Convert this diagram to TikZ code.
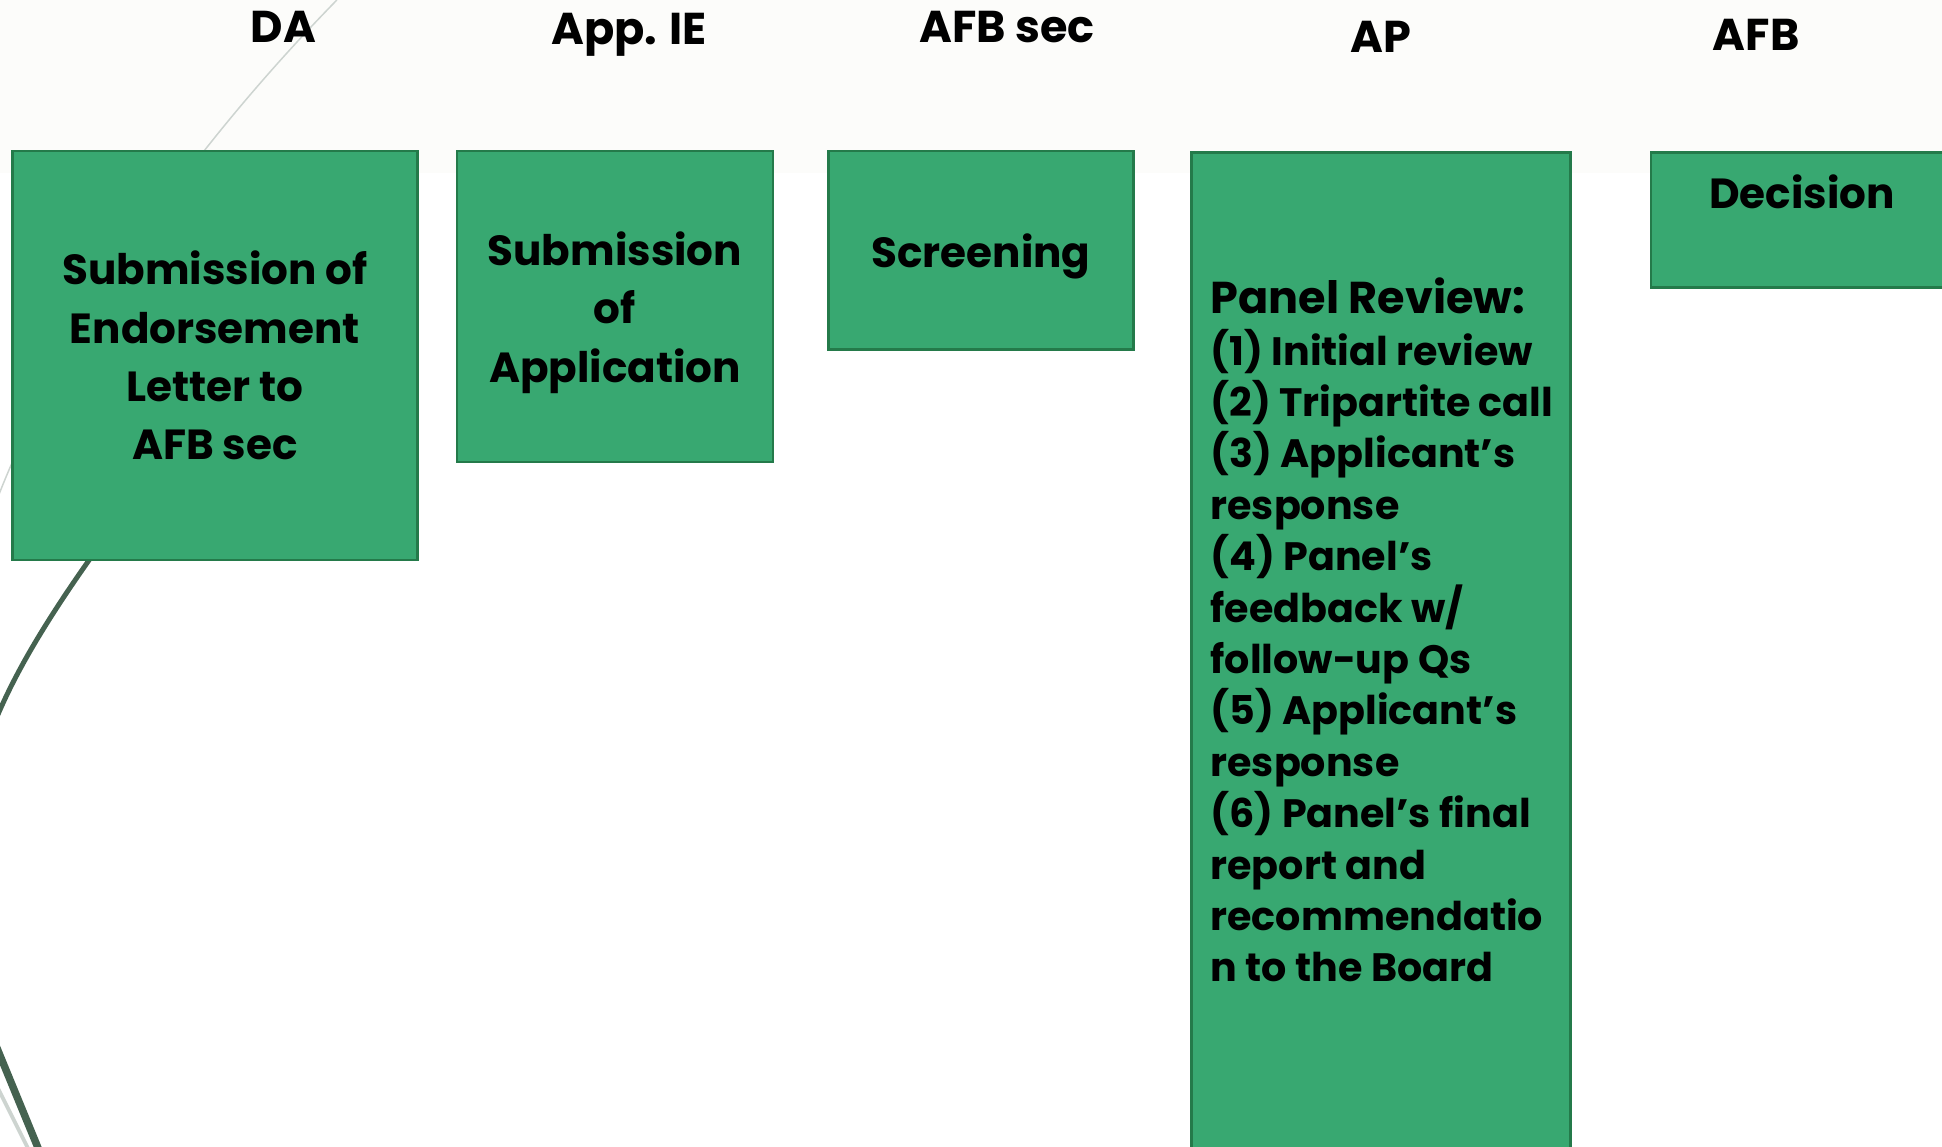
\documentclass[tikz,border=0pt]{standalone}
\usepackage{fontspec}
\setmainfont{Poppins}
\definecolor{boxgreen}{RGB}{56,168,113}
\definecolor{boxborder}{RGB}{36,122,74}
\definecolor{bandwhite}{RGB}{252,252,250}
\definecolor{swoosh}{RGB}{69,98,80}
\definecolor{swooshlight}{RGB}{205,212,208}
\newcommand{\dropline}[1]{\raisebox{-2.5pt}[\height][\depth]{#1}}

\begin{document}
\begin{tikzpicture}[x=0.5pt,y=-0.5pt]

\tikzset{stage/.style = {draw=boxborder, fill=boxgreen, line width=1pt, inner sep=0pt, align=center, font=\bfseries\fontsize{17}{23.5}\selectfont}}
\tikzset{head/.style = {font=\bfseries\fontsize{18}{21}\selectfont}}

\useasboundingbox (0,0) rectangle (1568,926);
\clip (0,0) rectangle (1568,926);
\fill[white] (0,0) rectangle (1568,926);
\fill[bandwhite] (0,0) rectangle (1568,140);

%swooshes
\draw[swooshlight, line width=0.6pt] (272,0) .. controls (135,140) and (40,290) .. (-5,410);
\draw[swoosh, line width=2pt] (110,400) .. controls (50,480) and (15,535) .. (-5,585);
\draw[swooshlight, line width=1.5pt] (-12,858) -- (24,930);
\draw[swoosh, line width=3pt] (-5,840) -- (32,930);

%headings
\node[head] (da) at (229,22) {DA};
\node[head] (ie) at (508,28) {App. IE};
\node[head] (sec) at (813,22) {AFB sec};
\node[head] (ap) at (1115,30) {AP};
\node[head] (afb) at (1418,28) {AFB};

%stages
\node[stage, minimum width=163.5pt, minimum height=165pt] (letter) at (173.5,287) {Submission of\\Endorsement\\Letter to\\AFB sec};
\node[stage, minimum width=127.5pt, minimum height=125.5pt] (apply) at (496.5,247.5) {\dropline{Submission}\\\dropline{of}\\\dropline{Application}};
\node[stage, minimum width=123pt, minimum height=80pt] (screen) at (792,202) {\dropline{Screening}};
\node[stage, minimum width=153pt, minimum height=440pt, anchor=north west] (panel) at (961,122) {};
\node[stage, minimum width=130pt, minimum height=54.5pt, anchor=north west] (decide) at (1332,122) {};
\node[font=\bfseries\fontsize{17}{23.5}\selectfont] (decidetxt) at (1455,155) {Decision};
\node[anchor=north west, inner sep=0pt, align=left, font=\bfseries\fontsize{16}{20.75}\selectfont] (paneltxt) at (977,224) {{\fontsize{18}{20.75}\selectfont Panel Review:}\\(1) Initial review\\(2) Tripartite call\\(3) Applicant's\\response\\(4) Panel's\\feedback w/\\follow-up Qs\\(5) Applicant's\\response\\(6) Panel's final\\report and\\recommendatio\\n to the Board};

\end{tikzpicture}
\end{document}
